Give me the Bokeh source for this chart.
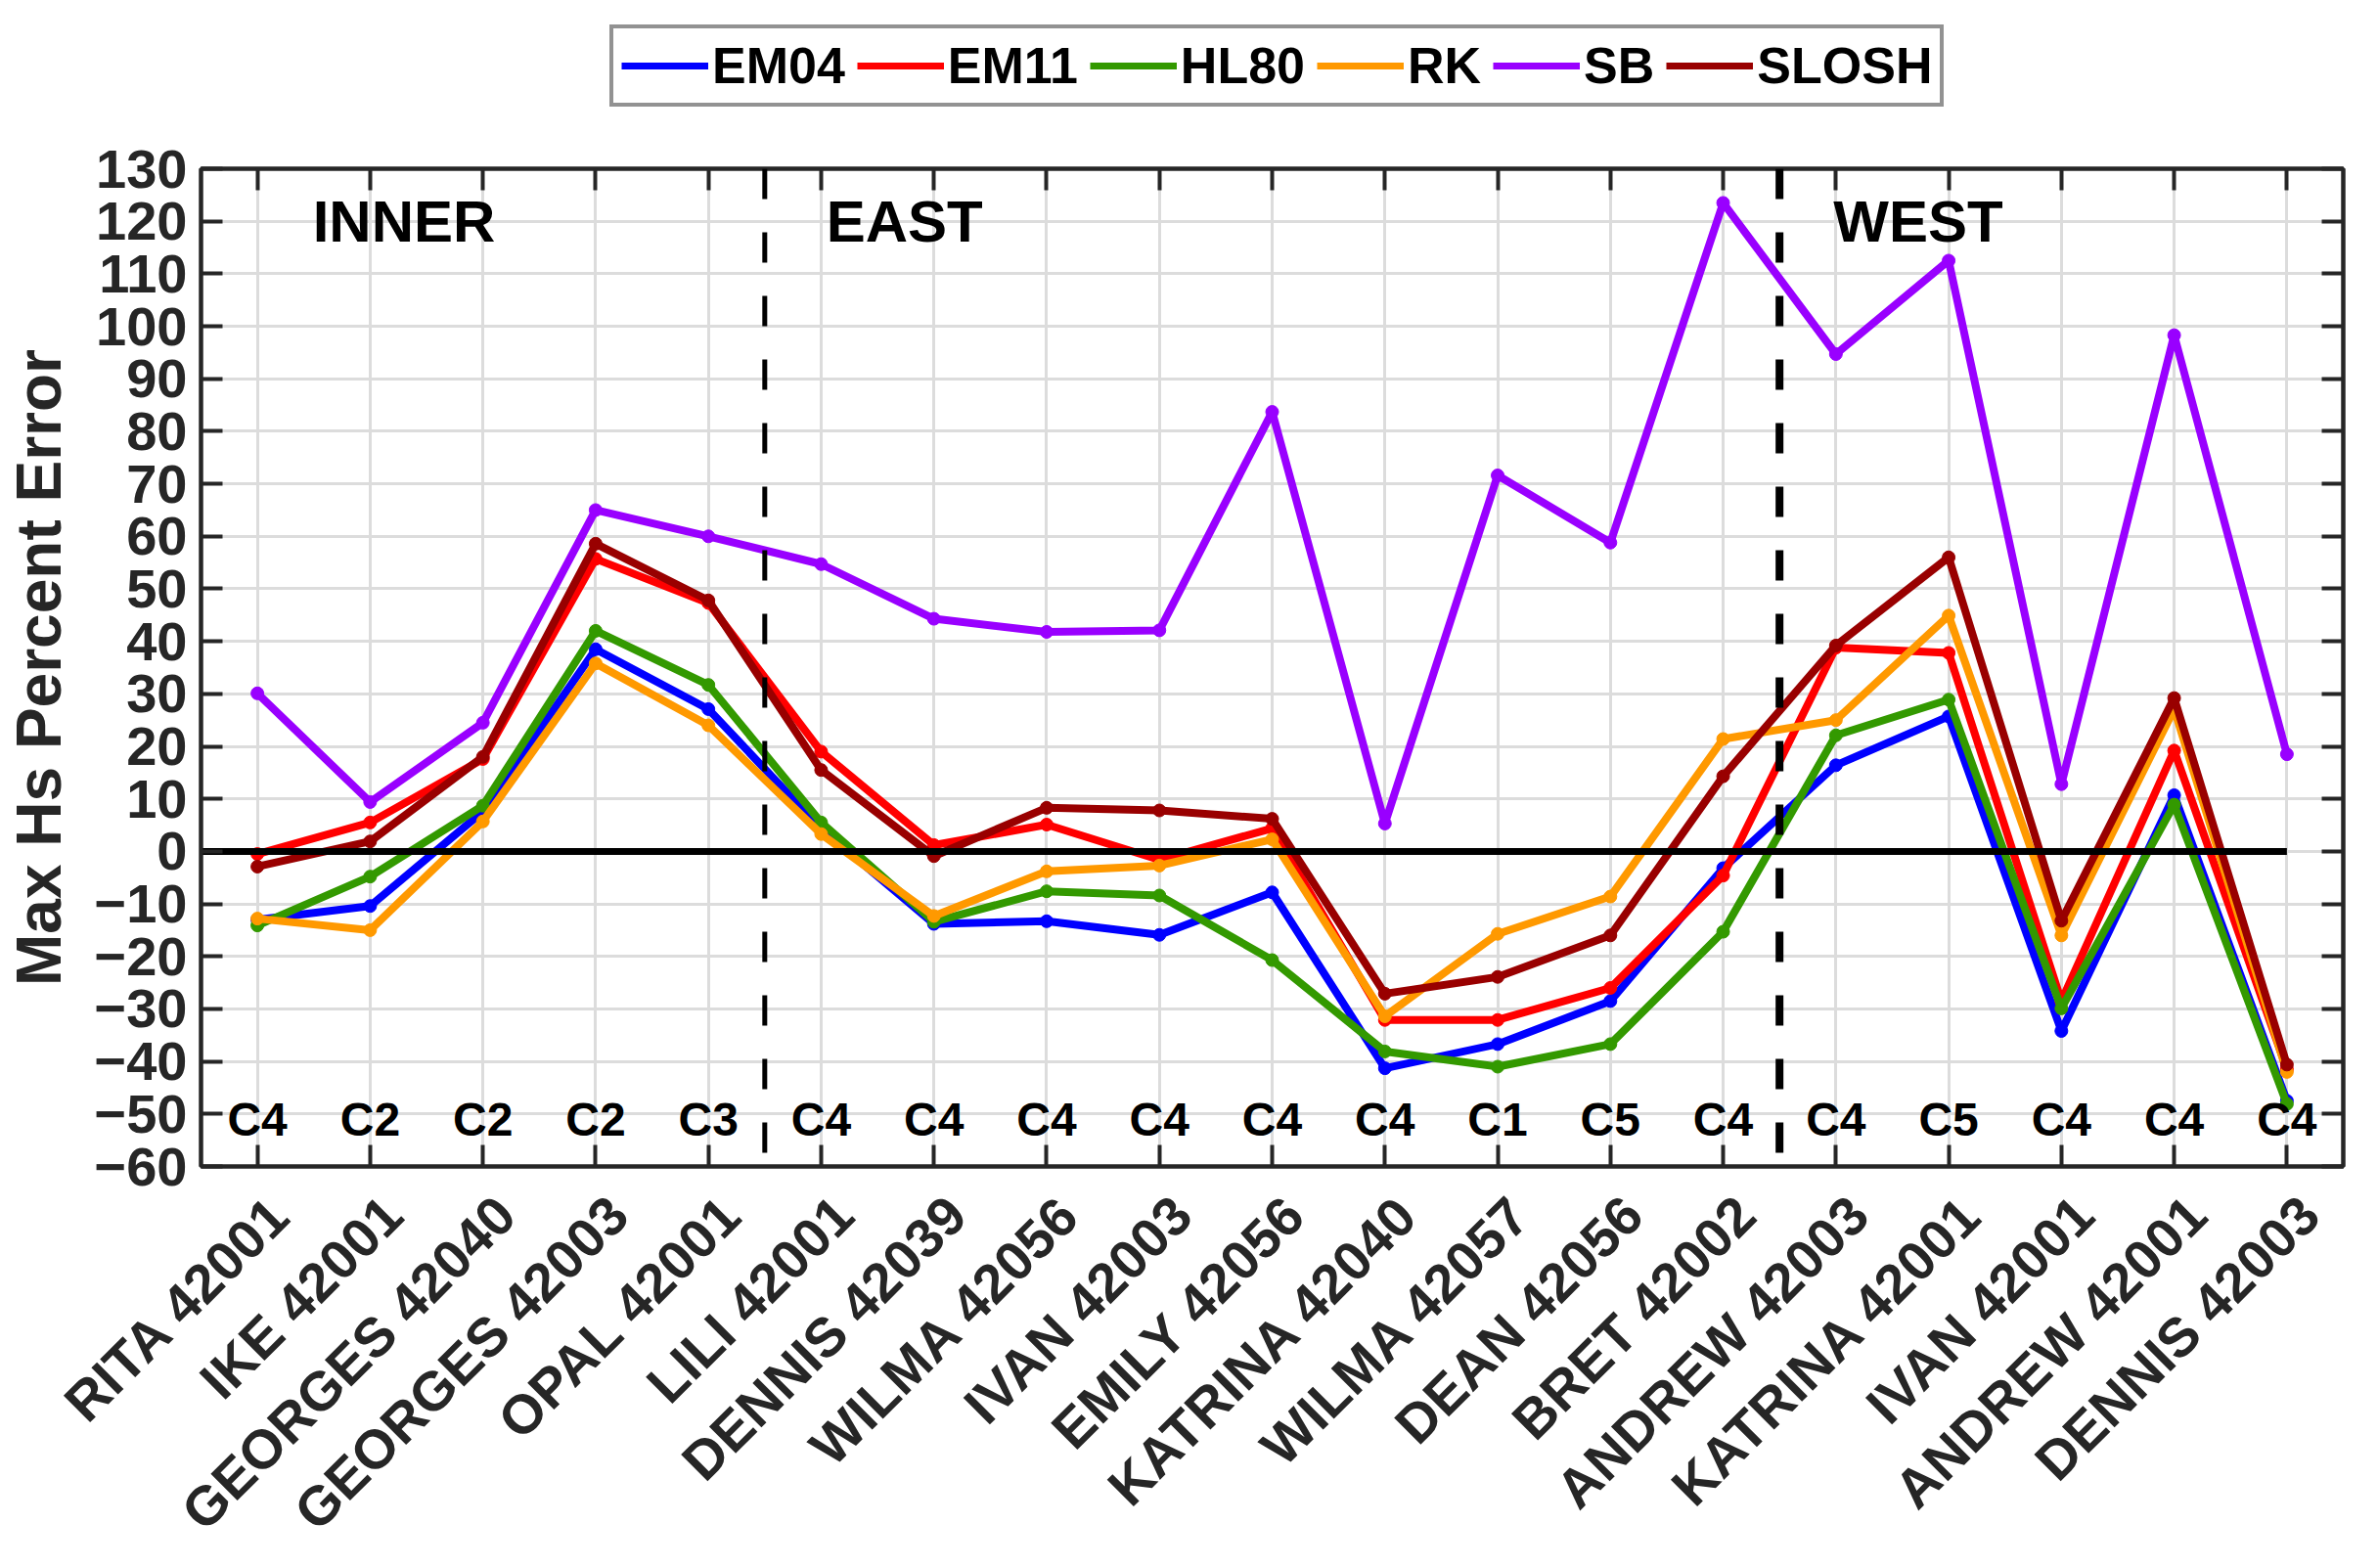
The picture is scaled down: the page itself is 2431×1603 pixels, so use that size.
import numpy as np
from bokeh.plotting import figure
from bokeh.layouts import column
from bokeh.models import (Range1d, FixedTicker, LinearAxis, Legend, LegendItem,
                          Span, CustomJSTickFormatter)
from bokeh.core.properties import value
from bokeh.embed import file_html
from bokeh.resources import INLINE

# ---------------- data ----------------
storms = ["RITA 42001", "IKE 42001", "GEORGES 42040", "GEORGES 42003", "OPAL 42001",
          "LILI 42001", "DENNIS 42039", "WILMA 42056", "IVAN 42003", "EMILY 42056",
          "KATRINA 42040", "WILMA 42057", "DEAN 42056", "BRET 42002", "ANDREW 42003",
          "KATRINA 42001", "IVAN 42001", "ANDREW 42001", "DENNIS 42003"]
categories = ["C4", "C2", "C2", "C2", "C3", "C4", "C4", "C4", "C4", "C4",
              "C4", "C1", "C5", "C4", "C4", "C5", "C4", "C4", "C4"]

em04 = [-13.0, -10.4, 7.6, 38.5, 27.1, 4.3, -13.8, -13.3, -15.9, -7.8,
        -41.3, -36.7, -28.5, -3.2, 16.4, 25.7, -34.2, 10.7, -47.5]
em11 = [-0.5, 5.5, 17.6, 55.7, 47.3, 19.0, 1.2, 5.1, -1.6, 4.4,
        -32.1, -32.1, -26.0, -4.6, 38.8, 37.8, -28.5, 19.2, -41.5]
hl80 = [-14.1, -4.8, 8.7, 42.0, 31.7, 5.5, -13.4, -7.6, -8.4, -20.7,
        -38.1, -41.0, -36.7, -15.3, 22.1, 28.9, -29.9, 8.9, -48.1]
rk = [-12.8, -15.0, 5.7, 35.8, 24.0, 3.3, -12.3, -3.8, -2.7, 2.3,
      -31.4, -15.7, -8.6, 21.4, 25.0, 44.9, -16.0, 27.1, -42.0]
sb = [30.1, 9.4, 24.5, 65.0, 60.0, 54.7, 44.3, 41.8, 42.1, 83.7,
      5.3, 71.6, 58.8, 123.5, 94.7, 112.5, 12.8, 98.3, 18.5]
slosh = [-2.9, 1.9, 18.0, 58.6, 47.8, 15.5, -0.9, 8.3, 7.8, 6.2,
         -27.1, -23.9, -16.0, 14.3, 39.2, 56.0, -13.2, 29.2, -40.6]

series_names = ["EM04", "EM11", "HL80", "RK", "SB", "SLOSH"]
series_values = [em04, em11, hl80, rk, sb, slosh]

region_names = ["INNER", "EAST", "WEST"]
region_label_x = [1.30, 5.74, 14.73]
region_label_y = 120
region_bounds = [4.5, 13.5]
category_label_y = -51
y_ticks = list(range(-60, 131, 10))

# ---------------- style ----------------
FONT = "Liberation Sans"
colors = ["#0000ff", "#ff0000", "#339900", "#ff9900", "#9900ff", "#990000"]
AXC = "#262626"
GRID = "#dcdcdc"
LABEL_SHIFT = 0.2   # horizontal nudge of the rotated storm labels (in category units)

x = list(range(len(storms)))
x_lo, x_hi = -0.5, len(storms) - 0.5

p = figure(frame_width=2190, frame_height=1020,
           x_range=Range1d(x_lo, x_hi), y_range=Range1d(-60, 130),
           output_backend="svg", toolbar_location=None, x_axis_location=None,
           min_border_left=202, min_border_right=23, min_border_top=47,
           min_border_bottom=10, background_fill_color="white",
           border_fill_color="white")
p.extra_x_ranges = {"labels": Range1d(x_lo - LABEL_SHIFT, x_hi - LABEL_SHIFT)}

p.outline_line_color = AXC
p.outline_line_width = 4

blank = CustomJSTickFormatter(code="return ''")

def tick_axis(ticks):
    return LinearAxis(ticker=FixedTicker(ticks=ticks), formatter=blank,
                      major_label_text_font_size="0px", major_tick_in=22,
                      major_tick_out=0, minor_tick_in=0, minor_tick_out=0,
                      major_tick_line_color=AXC, major_tick_line_width=4,
                      axis_line_color=AXC, axis_line_width=4, major_label_standoff=0)

# bottom: ticks-only axis, then the storm-name labels
p.add_layout(tick_axis(x), "below")
label_axis = LinearAxis(x_range_name="labels", ticker=FixedTicker(ticks=x),
                        major_label_overrides={i: s for i, s in enumerate(storms)},
                        major_label_orientation=np.pi / 4,
                        major_label_text_font=FONT, major_label_text_font_style="bold",
                        major_label_text_font_size="56px", major_label_text_color=AXC,
                        major_label_standoff=40, major_tick_in=0, major_tick_out=0,
                        minor_tick_in=0, minor_tick_out=0, axis_line_color=None)
p.add_layout(label_axis, "below")

# y axis
p.yaxis.ticker = FixedTicker(ticks=y_ticks)
p.yaxis.major_label_text_font = FONT
p.yaxis.major_label_text_font_style = "bold"
p.yaxis.major_label_text_font_size = "56px"
p.yaxis.major_label_text_color = AXC
p.yaxis.major_label_standoff = 14
p.yaxis.axis_label = "Max Hs Percent Error"
p.yaxis.axis_label_text_font = FONT
p.yaxis.axis_label_text_font_style = "bold"
p.yaxis.axis_label_text_font_size = "64px"
p.yaxis.axis_label_text_color = AXC
p.yaxis.axis_label_standoff = 18
ya = p.yaxis[0]
ya.major_tick_in = 22
ya.major_tick_out = 0
ya.minor_tick_in = 0
ya.minor_tick_out = 0
ya.major_tick_line_color = AXC
ya.major_tick_line_width = 4
ya.axis_line_color = AXC
ya.axis_line_width = 4

# mirrored ticks on top and right
p.add_layout(tick_axis(y_ticks), "right")
p.add_layout(tick_axis(x), "above")

# grid
p.xgrid.ticker = FixedTicker(ticks=x)
p.ygrid.ticker = FixedTicker(ticks=y_ticks)
p.grid.grid_line_color = GRID
p.grid.grid_line_width = 3
p.grid.grid_line_alpha = 1.0

# series
for vals, col in zip(series_values, colors):
    p.line(x, vals, line_color=col, line_width=8)
    p.scatter(x, vals, marker="circle", size=13, fill_color=col, line_color=col)

# zero line
p.line([x_lo, x[-1]], [0, 0], line_color="black", line_width=7)

# region boundaries
for b, w in zip(region_bounds, [5, 8]):
    p.add_layout(Span(location=b, dimension="height", line_color="black",
                      line_width=w, line_dash="31 34"))

# region labels
p.text(x=region_label_x, y=[region_label_y] * len(region_names), text=region_names,
       text_font=value(FONT), text_font_style="bold", text_font_size="60px",
       text_align="center", text_baseline="middle", text_color="black")

# category labels
p.text(x=x, y=[category_label_y] * len(x), text=categories,
       text_font=value(FONT), text_font_style="bold", text_font_size="48px",
       text_align="center", text_baseline="middle", text_color="black")

# ---------------- legend strip ----------------
# same series drawn far outside the strip's visible y range; only the legend shows
lg = figure(width=2415, height=125, x_range=Range1d(x_lo, x_hi),
            y_range=Range1d(1000, 1001), x_axis_type=None, y_axis_type=None,
            output_backend="svg", toolbar_location=None, min_border=0,
            background_fill_color="white", border_fill_color="white")
lg.grid.visible = False
lg.outline_line_color = None
items = []
for name, vals, col in zip(series_names, series_values, colors):
    r = lg.line(x, vals, line_color=col, line_width=7)
    items.append(LegendItem(label=name, renderers=[r]))

legend = Legend(items=items, orientation="horizontal", location=(418, 16),
                margin=0, padding=8, spacing=12, label_standoff=4,
                glyph_width=89, glyph_height=40,
                label_text_font=FONT, label_text_font_style="bold",
                label_text_font_size="52px", label_text_color="black",
                border_line_color=AXC, border_line_width=4,
                background_fill_color="white", background_fill_alpha=1.0)
lg.add_layout(legend, "center")

layout = column(lg, p, spacing=0)
open("out.html", "w").write(file_html(layout, INLINE))
